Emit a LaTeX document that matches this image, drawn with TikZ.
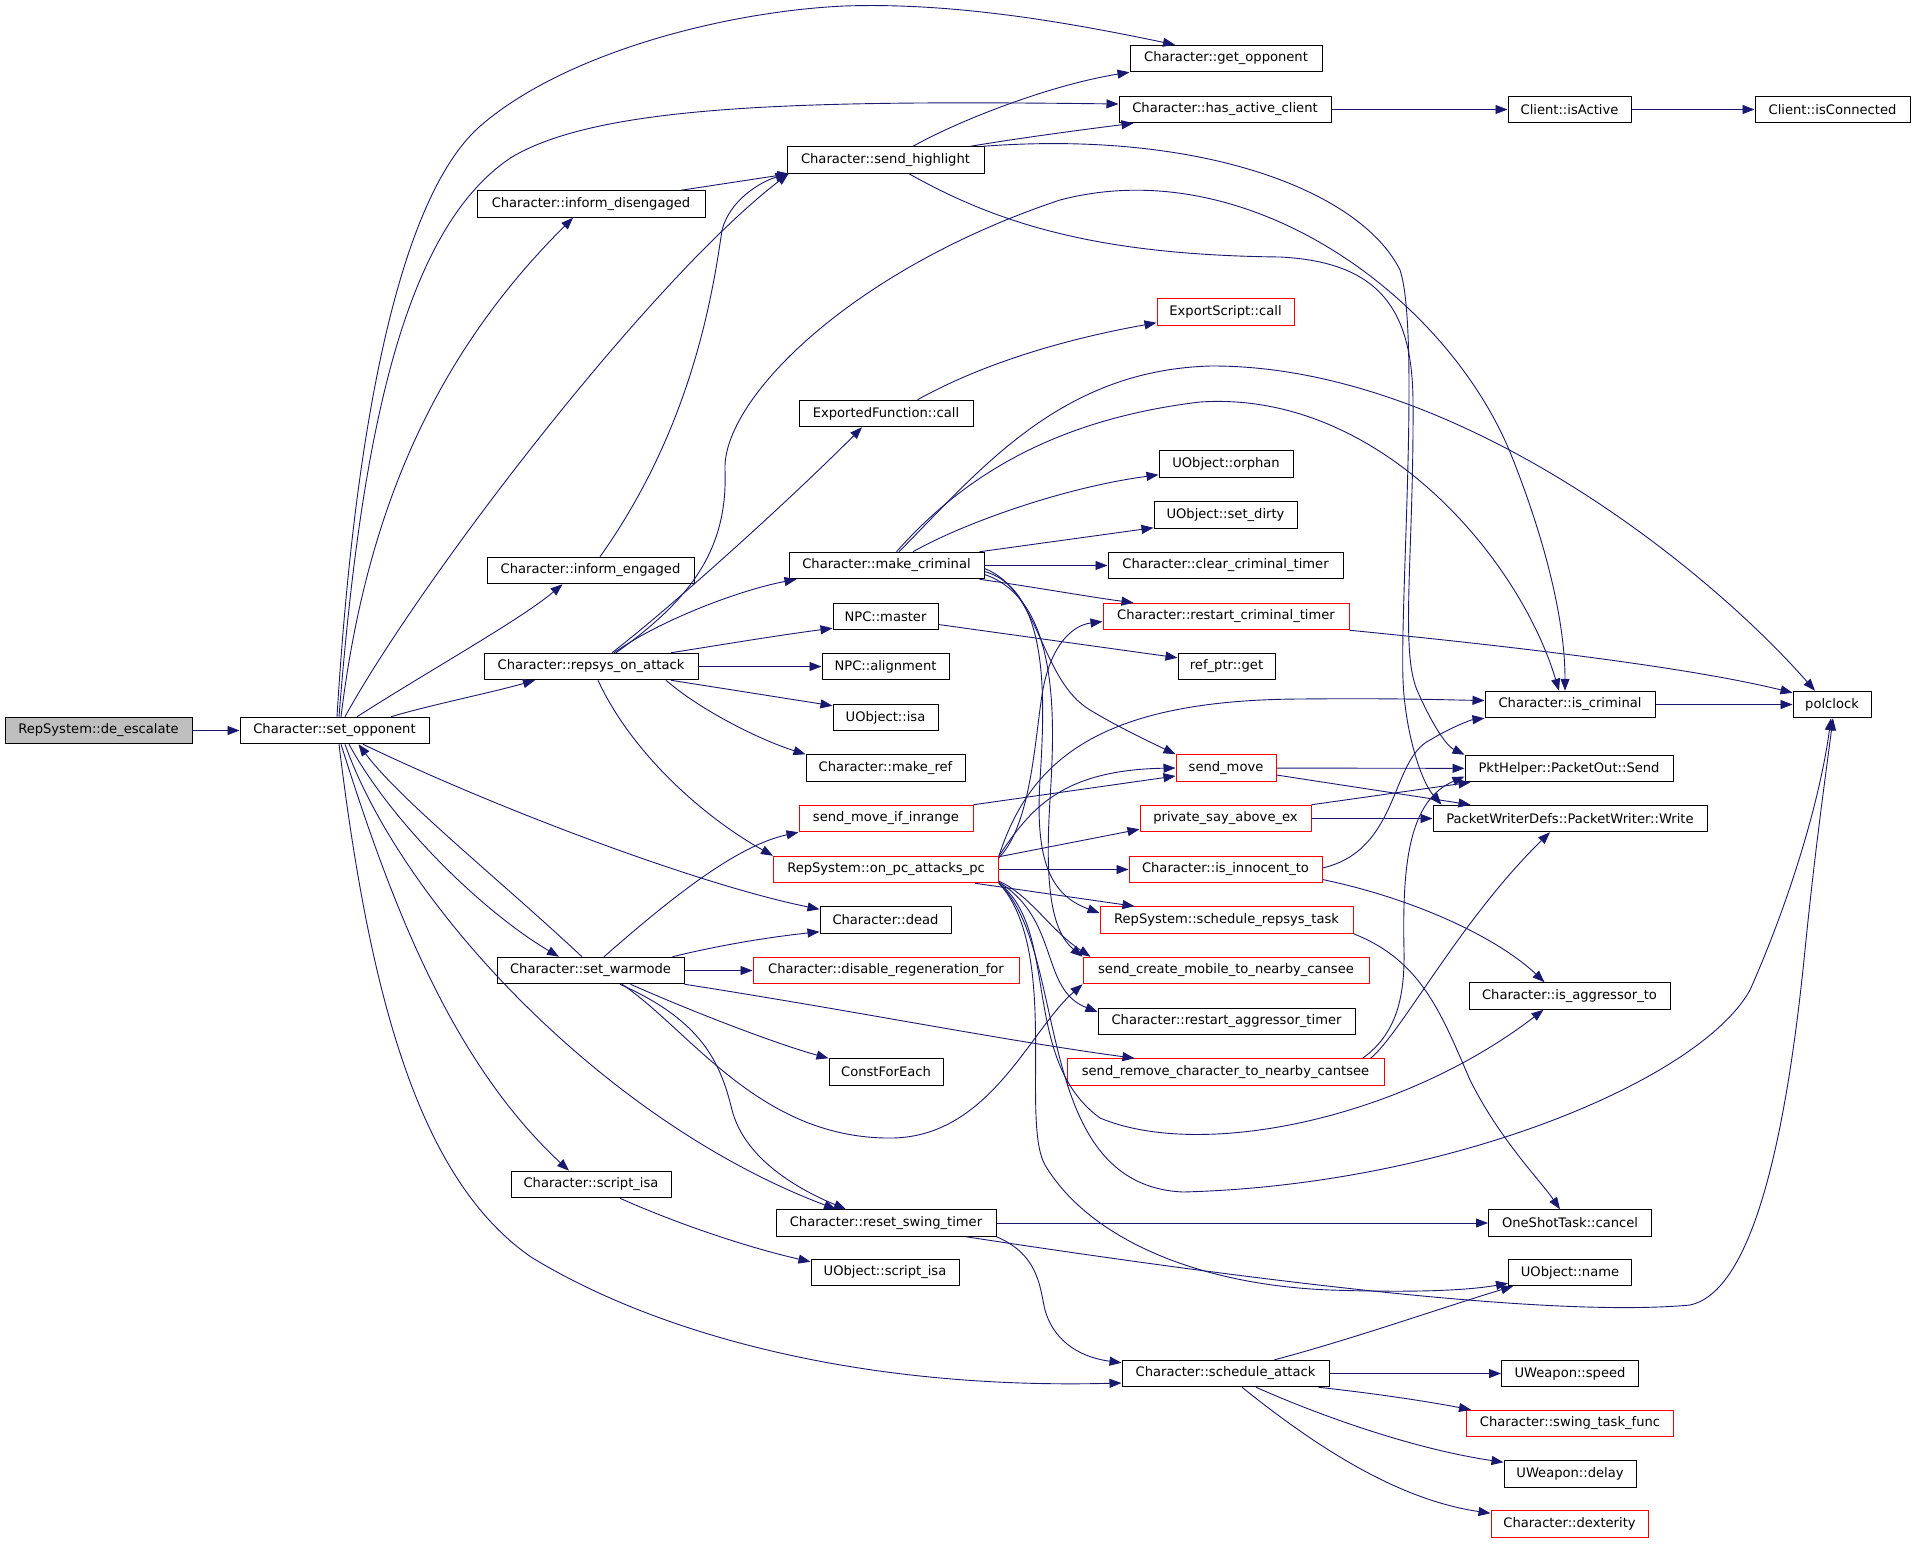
\documentclass[tikz,border=0pt]{standalone}
\usepackage{fontspec}
\setmainfont{DejaVu Sans}
\usetikzlibrary{arrows.meta}
\definecolor{edgeblue}{HTML}{191970}
\definecolor{nodegray}{HTML}{BFBFBF}
\definecolor{nodered}{HTML}{FF0000}
\begin{document}
\begin{tikzpicture}[x=1pt,y=-1pt,
  box/.style={draw=black, line width=1pt, inner sep=0pt, minimum height=26.5pt,
    font=\fontsize{13.1}{15}\selectfont, text=black},
  rbox/.style={box, draw=nodered},
  gbox/.style={box, fill=nodegray},
  edge/.style={draw=edgeblue, line width=0.9pt, -{Triangle[length=12pt,width=9pt]}}]
\useasboundingbox (0,0) rectangle (1915,1547);
\fill[white] (0,0) rectangle (1915,1547);
% column 1-2
\node[gbox, minimum width=187pt] (deesc) at (98.5,730.5) {RepSystem::de\_escalate};
\node[box, minimum width=189pt] (setopp) at (334.5,730.5) {Character::set\_opponent};
\node[box, minimum width=228pt] (infdis) at (591,204) {Character::inform\_disengaged};
\node[box, minimum width=207pt] (infeng) at (590.5,570.5) {Character::inform\_engaged};
\node[box, minimum width=214pt] (repsys) at (591,666.5) {Character::repsys\_on\_attack};
\node[box, minimum width=187pt] (setwar) at (590.5,970.5) {Character::set\_warmode};
\node[box, minimum width=160pt] (scrisa) at (591,1184.5) {Character::script\_isa};
% column 3
\node[box, minimum width=197pt] (sendhl) at (885.5,160) {Character::send\_highlight};
\node[box, minimum width=174pt] (expfn) at (886,413.5) {ExportedFunction::call};
\node[box, minimum width=195pt] (mkcrim) at (886.5,565.5) {Character::make\_criminal};
\node[box, minimum width=105pt] (npcmas) at (885.5,616.5) {NPC::master};
\node[box, minimum width=127pt] (npcali) at (885.5,666.5) {NPC::alignment};
\node[box, minimum width=105pt] (uisa) at (885.5,717.5) {UObject::isa};
\node[box, minimum width=159pt] (mkref) at (885.5,768) {Character::make\_ref};
\node[rbox, minimum width=174pt] (smif) at (886,818.5) {send\_move\_if\_inrange};
\node[rbox, minimum width=225pt] (onpc) at (886,869.5) {RepSystem::on\_pc\_attacks\_pc};
\node[box, minimum width=131pt] (dead) at (885.5,920) {Character::dead};
\node[rbox, minimum width=266pt] (disreg) at (886,970.5) {Character::disable\_regeneration\_for};
\node[box, minimum width=114pt] (cfe) at (886,1072) {ConstForEach};
\node[box, minimum width=220pt] (rst) at (886,1223) {Character::reset\_swing\_timer};
\node[box, minimum width=148pt] (uscr) at (885,1272.5) {UObject::script\_isa};
% column 4
\node[box, minimum width=192pt] (getopp) at (1226,58.5) {Character::get\_opponent};
\node[box, minimum width=212pt] (hasac) at (1225,109.5) {Character::has\_active\_client};
\node[rbox, minimum width=137pt] (expsc) at (1225.5,312) {ExportScript::call};
\node[box, minimum width=134pt] (orphan) at (1226,464) {UObject::orphan};
\node[box, minimum width=143pt] (setdirty) at (1225.5,515) {UObject::set\_dirty};
\node[box, minimum width=235pt] (clrcrim) at (1225.5,565.5) {Character::clear\_criminal\_timer};
\node[rbox, minimum width=246pt] (rstcrim) at (1226,616.5) {Character::restart\_criminal\_timer};
\node[box, minimum width=97pt] (refget) at (1226.5,666.5) {ref\_ptr::get};
\node[rbox, minimum width=100pt] (sendmove) at (1226,768) {send\_move};
\node[rbox, minimum width=171pt] (psay) at (1225.5,818.5) {private\_say\_above\_ex};
\node[rbox, minimum width=193pt] (isinn) at (1225.5,869.5) {Character::is\_innocent\_to};
\node[rbox, minimum width=253pt] (schrep) at (1226.5,920) {RepSystem::schedule\_repsys\_task};
\node[rbox, minimum width=286pt] (scm) at (1226,970.5) {send\_create\_mobile\_to\_nearby\_cansee};
\node[box, minimum width=257pt] (rstagg) at (1226.5,1021.5) {Character::restart\_aggressor\_timer};
\node[rbox, minimum width=317pt] (srm) at (1225.5,1072) {send\_remove\_character\_to\_nearby\_cantsee};
\node[box, minimum width=207pt] (schatk) at (1225.5,1373.5) {Character::schedule\_attack};
% column 5
\node[box, minimum width=123pt] (isact) at (1569.5,109.5) {Client::isActive};
\node[box, minimum width=170pt] (iscrim) at (1570,704.5) {Character::is\_criminal};
\node[box, minimum width=208pt] (send) at (1569,768.5) {PktHelper::PacketOut::Send};
\node[box, minimum width=274pt] (write) at (1570,818.5) {PacketWriterDefs::PacketWriter::Write};
\node[box, minimum width=201pt] (isagg) at (1569.5,996) {Character::is\_aggressor\_to};
\node[box, minimum width=163pt] (cancel) at (1570,1223) {OneShotTask::cancel};
\node[box, minimum width=123pt] (uname) at (1570,1272.5) {UObject::name};
\node[box, minimum width=137pt] (speed) at (1570,1373.5) {UWeapon::speed};
\node[rbox, minimum width=207pt] (swing) at (1570,1423.5) {Character::swing\_task\_func};
\node[box, minimum width=132pt] (delay) at (1570,1474) {UWeapon::delay};
\node[rbox, minimum width=157pt] (dex) at (1569.5,1524) {Character::dexterity};
% column 6
\node[box, minimum width=155pt] (isconn) at (1832.5,109.5) {Client::isConnected};
\node[box, minimum width=78pt] (polclock) at (1832,704.5) {polclock};

% ---- edges ----
\draw[edge] (deesc) -- (setopp);
\draw[edge] ([xshift=2.5pt]setopp.north) .. controls (355,420) and (400,200) .. (478,128) .. controls (560,55) and (720,12) .. (844,6) .. controls (960,2) and (1080,25) .. ([xshift=-51pt]getopp.north);
\draw[edge] ([xshift=4.5pt]setopp.north) .. controls (360,450) and (400,230) .. (512,157) .. controls (600,105) and (800,100) .. ([yshift=5.5pt]hasac.west);
\draw[edge] ([xshift=6.5pt]setopp.north) .. controls (365,520) and (430,360) .. ([xshift=-18pt]infdis.south);
\draw[edge] ([xshift=10.5pt]setopp.north) .. controls (420,580) and (650,280) .. ([xshift=2pt]sendhl.south west);
\draw[edge] ([xshift=90pt]infdis.north) -- ([xshift=3pt]sendhl.south west);
\draw[edge] ([xshift=9.5pt]infeng.north) .. controls (690,430) and (712,300) .. (722,230) .. controls (730,200) and (760,182) .. ([xshift=1pt]sendhl.south west);
\draw[edge] ([xshift=22.5pt]setopp.north) .. controls (430,670) and (520,620) .. ([xshift=-28pt]infeng.south);
\draw[edge] ([xshift=56.5pt]setopp.north) .. controls (430,705) and (490,693) .. ([xshift=-56pt]repsys.south);
\draw[edge] ([xshift=14.5pt]setopp.south) .. controls (390,820) and (480,910) .. ([xshift=-31.5pt]setwar.north);
\draw[edge] ([xshift=-8.5pt]setwar.north) .. controls (500,880) and (400,800) .. ([xshift=24pt]setopp.south);
\draw[edge] ([xshift=28.5pt]setopp.south) .. controls (500,810) and (700,885) .. ([yshift=-3pt]dead.north west);
\draw[edge] ([xshift=6.5pt]setopp.south) .. controls (390,900) and (450,1060) .. ([xshift=-22pt]scrisa.north);
\draw[edge] ([xshift=10.5pt]setopp.south) .. controls (400,900) and (600,1120) .. ([xshift=-50pt]rst.north);
\draw[edge] ([xshift=4.5pt]setopp.south) .. controls (370,1000) and (420,1180) .. (531,1257) .. controls (650,1330) and (850,1390) .. ([yshift=-9.5pt]schatk.west);
% set_warmode
\draw[edge] ([xshift=82pt]setwar.north) .. controls (720,945) and (770,937) .. ([yshift=2pt]dead.south west);
\draw[edge] (setwar) -- (disreg);
\draw[edge] ([xshift=13.5pt]setwar.north) .. controls (680,890) and (740,845) .. (smif.south west);
\draw[edge] ([xshift=40pt]setwar.south) .. controls (700,1015) and (780,1045) .. (cfe.north west);
\draw[edge] (setwar.south east) .. controls (850,1010) and (1000,1040) .. ([xshift=68pt]srm.north west);
\draw[edge] ([xshift=29.5pt]setwar.south) .. controls (700,1020) and (720,1060) .. (732,1110) .. controls (745,1160) and (800,1190) .. ([xshift=-40pt]rst.north);
\draw[edge] ([xshift=31.5pt]setwar.south) .. controls (690,1030) and (760,1140) .. (893,1138) .. controls (990,1136) and (1030,1030) .. (scm.south west);
% repsys_on_attack
\draw[edge] ([xshift=23pt]repsys.north) .. controls (660,620) and (740,590) .. ([xshift=8pt]mkcrim.south west);
\draw[edge] ([xshift=21pt]repsys.north) .. controls (680,600) and (800,490) .. ([xshift=-24pt]expfn.south);
\draw[edge] ([xshift=25pt]repsys.north) .. controls (690,600) and (728,550) .. (725,470) .. controls (722,400) and (850,270) .. (1060,200) .. controls (1250,150) and (1450,300) .. (1512,457) .. controls (1545,540) and (1565,620) .. ([xshift=-5pt]iscrim.north);
\draw[edge] ([xshift=80pt]repsys.north) .. controls (720,645) and (780,635) .. ([yshift=2pt]npcmas.south west);
\draw[edge] (repsys) -- (npcali);
\draw[edge] ([xshift=80pt]repsys.south) -- ([yshift=-2pt]uisa.north west);
\draw[edge] ([xshift=75pt]repsys.south) .. controls (700,710) and (760,740) .. (mkref.north west);
\draw[edge] ([xshift=7pt]repsys.south) .. controls (630,750) and (700,815) .. (onpc.north west);
% make_criminal
\draw[edge] ([xshift=26.5pt]mkcrim.north) .. controls (960,525) and (1060,488) .. ([yshift=3pt]orphan.south west);
\draw[edge] ([xshift=-5pt]mkcrim.north east) -- ([yshift=1pt]setdirty.south west);
\draw[edge] (mkcrim) -- (clrcrim);
\draw[edge] ([xshift=-5pt]mkcrim.south east) .. controls (1040,588) and (1090,597) .. ([xshift=31pt]rstcrim.north west);
\draw[edge] ([xshift=12.5pt]mkcrim.north) .. controls (980,470) and (1060,370) .. (1211,366) .. controls (1450,365) and (1700,560) .. ([xshift=-17pt]polclock.north);
\draw[edge] ([xshift=10pt]mkcrim.north) .. controls (960,480) and (1050,420) .. (1200,402) .. controls (1380,390) and (1520,560) .. ([xshift=-11pt]iscrim.north);
\draw[edge] ([yshift=-3pt]mkcrim.east) .. controls (1040,590) and (1040,680) .. (1090,710) .. controls (1120,728) and (1150,742) .. (sendmove.north west);
\draw[edge] ([yshift=-6pt]mkcrim.east) .. controls (1050,590) and (1045,700) .. (1040,780) .. controls (1035,860) and (1050,895) .. ([yshift=7pt]schrep.west);
\draw[edge] ([yshift=-9pt]mkcrim.east) .. controls (1060,600) and (1055,720) .. (1050,800) .. controls (1045,880) and (1050,930) .. (scm.north west);
% misc
\draw[edge] ([xshift=31.5pt]expfn.north) .. controls (980,365) and (1060,340) .. ([yshift=3pt]expsc.south west);
\draw[edge] ([yshift=-8pt]npcmas.east) -- ([yshift=-5pt]refget.north west);
\draw[edge] (rstcrim.south east) .. controls (1550,650) and (1700,670) .. ([yshift=-2pt]polclock.north west);
\draw[edge] (iscrim) -- (polclock);
\draw[edge] (hasac) -- (isact);
\draw[edge] (isact) -- (isconn);
% send_highlight
\draw[edge] ([xshift=27.5pt]sendhl.north) .. controls (960,120) and (1050,85) .. (getopp.south west);
\draw[edge] ([xshift=85pt]sendhl.north) .. controls (1020,138) and (1080,130) .. ([xshift=15pt]hasac.south west);
\draw[edge] ([xshift=-1pt]sendhl.north east) .. controls (1200,130) and (1360,190) .. (1400,270) .. controls (1420,330) and (1400,600) .. (1403,680) .. controls (1405,730) and (1420,780) .. ([xshift=9pt]write.north west);
\draw[edge] ([xshift=23.5pt]sendhl.south) .. controls (1000,225) and (1100,255) .. (1280,257) .. controls (1380,262) and (1412,310) .. (1413,400) .. controls (1414,550) and (1400,650) .. (1417,690) .. controls (1430,720) and (1445,745) .. (send.north west);
% send_move, private_say
\draw[edge] (sendmove) -- (send);
\draw[edge] ([yshift=-7pt]sendmove.east) -- ([xshift=38pt]write.north west);
\draw[edge] (psay.north east) -- ([xshift=6pt]send.south west);
\draw[edge] (psay) -- (write);
\draw[edge] (smif.north east) -- ([yshift=-8pt]sendmove.west);
% on_pc_attacks_pc
\draw[edge] (onpc.north east) .. controls (1030,760) and (1100,700) .. (1300,699) .. controls (1400,698) and (1450,700) .. ([yshift=4pt]iscrim.west);
\draw[edge] (onpc.north east) .. controls (1030,810) and (1060,770) .. (sendmove.west);
\draw[edge] ([yshift=-1pt]onpc.north east) -- ([yshift=3pt]psay.south west);
\draw[edge] ([yshift=-2pt]onpc.north east) .. controls (1035,820) and (1035,720) .. (1045,680) .. controls (1055,640) and (1075,625) .. ([yshift=-5pt]rstcrim.west);
\draw[edge] (onpc) -- (isinn);
\draw[edge] ([xshift=-24pt]onpc.south east) -- ([xshift=35pt]schrep.north west);
\draw[edge] ([yshift=2pt]onpc.south east) .. controls (1030,895) and (1050,930) .. ([xshift=8pt]scm.north west);
\draw[edge] ([yshift=1pt]onpc.south east) .. controls (1060,920) and (1040,990) .. ([yshift=-4pt]rstagg.north west);
\draw[edge] (onpc.south east) .. controls (1060,930) and (1020,1060) .. (1100,1118) .. controls (1200,1160) and (1400,1120) .. ([xshift=-26pt]isagg.south);
\draw[edge] (onpc.south east) .. controls (1070,950) and (1030,1185) .. (1183,1192) .. controls (1450,1185) and (1700,1080) .. (1750,990) .. controls (1790,900) and (1820,800) .. ([xshift=-1pt]polclock.south);
\draw[edge] (onpc.south east) .. controls (1060,950) and (1020,1120) .. (1045,1165) .. controls (1090,1240) and (1200,1285) .. (1330,1290) .. controls (1420,1293) and (1470,1290) .. ([yshift=3pt]uname.south west);
% is_innocent_to
\draw[edge] ([yshift=1.5pt]isinn.east) .. controls (1400,850) and (1390,760) .. (1430,740) .. controls (1450,728) and (1470,720) .. (iscrim.south west);
\draw[edge] ([yshift=-10pt]isinn.east) .. controls (1420,900) and (1500,940) .. ([xshift=-25pt]isagg.north);
% schedule_repsys_task
\draw[edge] (schrep.south east) .. controls (1420,960) and (1440,1010) .. (1470,1080) .. controls (1500,1140) and (1540,1180) .. ([xshift=-10pt]cancel.north);
% send_remove_character
\draw[edge] ([xshift=-22pt]srm.north east) .. controls (1395,1035) and (1405,1000) .. (1404,950) .. controls (1402,860) and (1410,800) .. ([yshift=-8pt]send.west);
\draw[edge] ([xshift=-14pt]srm.north east) .. controls (1400,1035) and (1460,920) .. ([xshift=-20pt]write.south);
% reset_swing_timer
\draw[edge] (rst) -- (cancel);
\draw[edge] ([xshift=80pt]rst.south) .. controls (1250,1280) and (1550,1318) .. (1690,1305) .. controls (1760,1290) and (1790,1100) .. (1805,950) .. controls (1815,850) and (1825,780) .. ([xshift=1pt]polclock.south);
\draw[edge] (rst.south east) .. controls (1040,1255) and (1040,1290) .. (1045,1310) .. controls (1055,1345) and (1085,1358) .. ([yshift=-3pt]schatk.north west);
% script_isa
\draw[edge] ([xshift=29pt]scrisa.south) .. controls (680,1225) and (750,1248) .. ([yshift=-3pt]uscr.north west);
% schedule_attack
\draw[edge] ([xshift=-55pt]schatk.north east) .. controls (1350,1340) and (1450,1305) .. ([xshift=5pt]uname.south west);
\draw[edge] (schatk) -- (speed);
\draw[edge] ([xshift=-11pt]schatk.south east) .. controls (1370,1393) and (1420,1400) .. ([xshift=5pt]swing.north west);
\draw[edge] ([xshift=30.5pt]schatk.south) .. controls (1330,1420) and (1420,1450) .. ([yshift=-2pt]delay.north west);
\draw[edge] ([xshift=16.5pt]schatk.south) .. controls (1320,1450) and (1400,1500) .. ([yshift=-3pt]dex.north west);
\end{tikzpicture}
\end{document}
